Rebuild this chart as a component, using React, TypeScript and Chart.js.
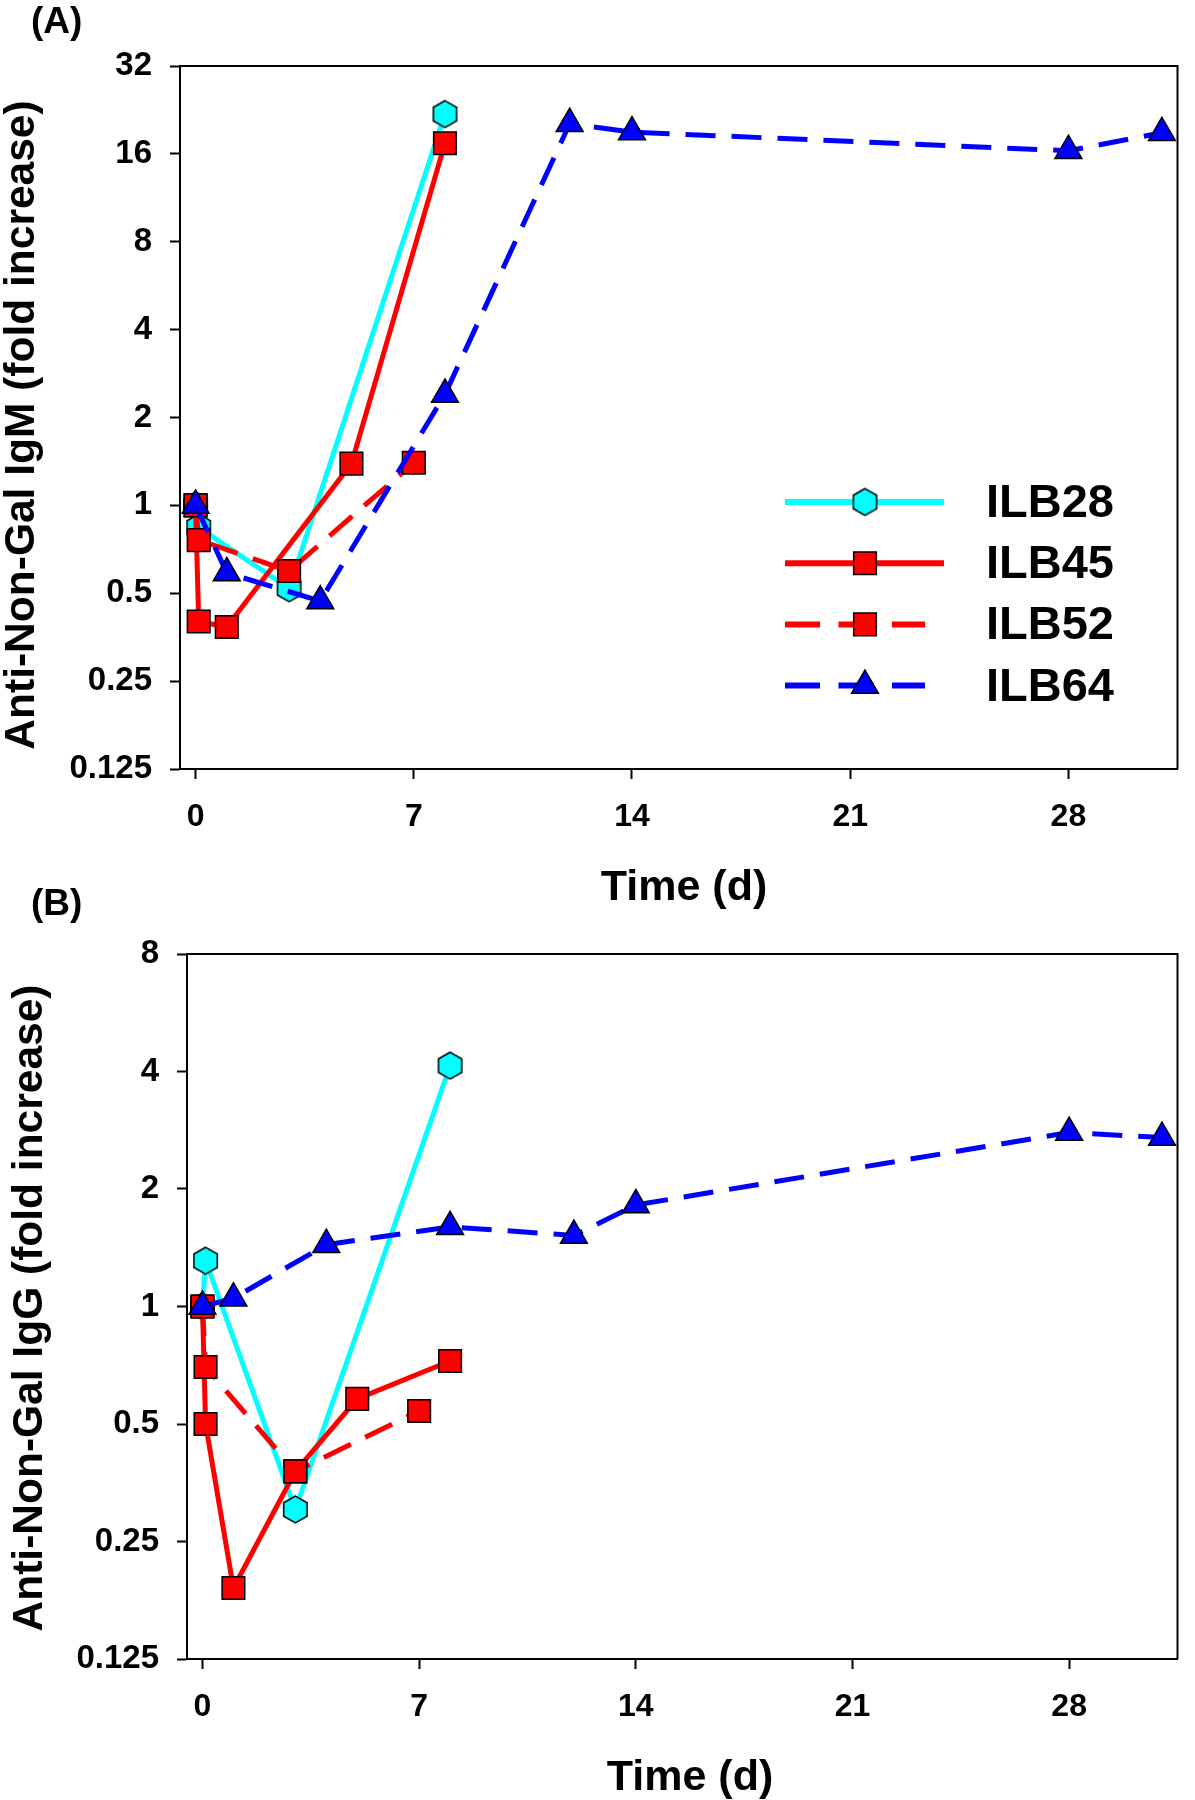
import { useEffect, useRef } from 'react'
import { Chart, registerables } from 'chart.js'
import { drawPoint } from 'chart.js/helpers'

Chart.register(...registerables)

const seriesNames = ['ILB28', 'ILB45', 'ILB52', 'ILB64']
const dayTicks = [0, 7, 14, 21, 28]
const igmTicks = [0.125, 0.25, 0.5, 1, 2, 4, 8, 16, 32]
const iggTicks = [0.125, 0.25, 0.5, 1, 2, 4, 8]

// (A) IgM fold increase
const igmDays28 = [0, 0.1, 3, 8]
const igmILB28 = [1, 0.84, 0.52, 21.9]
const igmDays45 = [0, 0.1, 1, 5, 8]
const igmILB45 = [1, 0.4, 0.383, 1.39, 17.4]
const igmDays52 = [0, 0.1, 3, 7]
const igmILB52 = [1, 0.76, 0.596, 1.4]
const igmDays64 = [0, 1, 4, 8, 12, 14, 28, 31]
const igmILB64 = [1, 0.587, 0.47, 2.4, 20.3, 19.0, 16.4, 18.9]

// (B) IgG fold increase
const iggDays28 = [0, 0.1, 3, 8]
const iggILB28 = [1, 1.31, 0.302, 4.14]
const iggDays45 = [0, 0.1, 1, 3, 5, 8]
const iggILB45 = [1, 0.5, 0.19, 0.378, 0.58, 0.725]
const iggDays52 = [0, 0.1, 3, 7]
const iggILB52 = [1, 0.7, 0.378, 0.54]
const iggDays64 = [0, 1, 4, 8, 12, 14, 28, 31]
const iggILB64 = [1, 1.05, 1.44, 1.6, 1.52, 1.82, 2.79, 2.71]

const FONT = '"Liberation Sans", Arial, Helvetica, sans-serif'

const makeHexagon = (radius, fill) => {
  const c = document.createElement('canvas')
  const size = Math.ceil(radius * 2 + 4)
  c.width = size
  c.height = size
  const ctx = c.getContext('2d')
  ctx.beginPath()
  for (let i = 0; i < 6; i++) {
    const a = Math.PI / 2 + (i * Math.PI) / 3
    const px = size / 2 + radius * Math.cos(a)
    const py = size / 2 - radius * Math.sin(a)
    if (i === 0) ctx.moveTo(px, py)
    else ctx.lineTo(px, py)
  }
  ctx.closePath()
  ctx.fillStyle = fill
  ctx.fill()
  ctx.lineWidth = 1.5
  ctx.strokeStyle = '#000'
  ctx.stroke()
  return c
}

const styles = [
  { color: '#00ffff', dash: [], legendDash: [], point: 'hexagon', radius: 13.5 },
  { color: '#ff0000', dash: [], legendDash: [], point: 'rect', radius: 16 },
  { color: '#ff0000', dash: [30, 16], legendDash: [35, 18.5], point: 'rect', radius: 16 },
  { color: '#0000ff', dash: [30, 16], legendDash: [35, 18.5], point: 'triangle', radius: 15.5 },
]

const toPoints = (days, values) => days.map((d, i) => ({ x: d, y: values[i] }))

// frame, titles, panel letter and (optional) legend
const decorPlugin = {
  id: 'decor',
  beforeDatasetsDraw(chart) {
    const { ctx, chartArea } = chart
    ctx.save()
    ctx.strokeStyle = '#000'
    ctx.lineWidth = 2
    ctx.beginPath()
    ctx.moveTo(chartArea.left, chartArea.top)
    ctx.lineTo(chartArea.right, chartArea.top)
    ctx.lineTo(chartArea.right, chartArea.bottom)
    ctx.stroke()
    ctx.restore()
  },
  afterDraw(chart, args, o) {
    const { ctx } = chart
    ctx.save()
    ctx.fillStyle = '#000'
    ctx.textBaseline = 'alphabetic'

    ctx.font = `bold 37px ${FONT}`
    ctx.textAlign = 'left'
    ctx.fillText(o.panel, o.panelX, o.panelY)

    ctx.font = `bold 43px ${FONT}`
    ctx.textAlign = 'center'
    ctx.fillText(o.xTitle, o.xTitleX, o.xTitleY)

    ctx.save()
    ctx.font = `bold 42.5px ${FONT}`
    ctx.translate(o.yTitleX, o.yTitleY)
    ctx.rotate(-Math.PI / 2)
    ctx.fillText(o.yTitle, 0, 0)
    ctx.restore()

    if (o.legend) {
      const { x0, x1, xDash1, xMark, xText, y0, step } = o.legend
      chart.data.datasets.forEach((ds, i) => {
        const st = styles[i]
        const y = y0 + i * step
        ctx.save()
        ctx.strokeStyle = st.color
        ctx.lineWidth = 6
        ctx.setLineDash(st.legendDash)
        ctx.beginPath()
        ctx.moveTo(x0, y)
        ctx.lineTo(st.legendDash.length ? xDash1 : x1, y)
        ctx.stroke()
        ctx.restore()
        ctx.save()
        ctx.fillStyle = st.color
        ctx.strokeStyle = '#000'
        ctx.lineWidth = 1.5
        drawPoint(ctx, { pointStyle: ds.pointStyle, radius: st.radius, rotation: 0, borderWidth: 1.5 }, xMark, y)
        ctx.restore()
        ctx.font = `bold 47px ${FONT}`
        ctx.textAlign = 'left'
        ctx.textBaseline = 'middle'
        ctx.fillText(ds.label, xText, y + 2)
      })
    }
    ctx.restore()
  },
}

const Panel = ({ top, height, area, series, yTicks, decor }) => {
  const chartRef = useRef(null)
  const chartInstance = useRef(null)

  useEffect(() => {
    if (!chartRef.current) return
    if (chartInstance.current) chartInstance.current.destroy()

    const ctx = chartRef.current.getContext('2d')
    const datasets = series.map((pts, i) => {
      const st = styles[i]
      return {
        label: seriesNames[i],
        data: pts,
        borderColor: st.color,
        borderWidth: 5,
        borderDash: st.dash,
        borderCapStyle: 'butt',
        pointStyle: st.point === 'hexagon' ? makeHexagon(st.radius, st.color) : st.point,
        pointRadius: st.radius,
        pointBackgroundColor: st.color,
        pointBorderColor: '#000',
        pointBorderWidth: 1.5,
        tension: 0,
        fill: false,
        clip: false,
        order: 4 - i,
      }
    })

    const tickFont = { family: FONT, weight: 'bold' }

    chartInstance.current = new Chart(ctx, {
      type: 'line',
      data: { datasets },
      plugins: [decorPlugin],
      options: {
        responsive: false,
        animation: false,
        events: [],
        layout: { padding: { left: 0, top: area.top, right: 1195 - area.right, bottom: 0 } },
        plugins: {
          legend: { display: false },
          tooltip: { enabled: false },
          decor,
        },
        scales: {
          x: {
            type: 'linear',
            min: -0.5,
            max: 31.5,
            afterBuildTicks: (s) => {
              s.ticks = dayTicks.map((v) => ({ value: v }))
            },
            afterFit: (s) => {
              s.height = height - area.bottom
            },
            grid: { drawOnChartArea: false, drawTicks: true, tickLength: 10, tickWidth: 2, tickColor: '#000' },
            border: { display: true, color: '#000', width: 2 },
            ticks: {
              color: '#000',
              font: { ...tickFont, size: 32 },
              padding: 19,
              maxRotation: 0,
              autoSkip: false,
              callback: (v) => String(v),
            },
          },
          y: {
            type: 'logarithmic',
            min: yTicks[0],
            max: yTicks[yTicks.length - 1],
            afterBuildTicks: (s) => {
              s.ticks = yTicks.map((v) => ({ value: v }))
            },
            afterFit: (s) => {
              s.width = area.left
            },
            grid: { drawOnChartArea: false, drawTicks: true, tickLength: 10, tickWidth: 2, tickColor: '#000' },
            border: { display: true, color: '#000', width: 2 },
            ticks: {
              color: '#000',
              font: { ...tickFont, size: 33 },
              padding: 18,
              autoSkip: false,
              callback: (v) => String(v),
            },
          },
        },
      },
    })

    return () => {
      if (chartInstance.current) {
        chartInstance.current.destroy()
        chartInstance.current = null
      }
    }
  }, [])

  return (
    <canvas
      ref={chartRef}
      width={1195}
      height={height}
      style={{ position: 'absolute', left: 0, top, width: 1195, height }}
    />
  )
}

const igmSeries = [
  toPoints(igmDays28, igmILB28),
  toPoints(igmDays45, igmILB45),
  toPoints(igmDays52, igmILB52),
  toPoints(igmDays64, igmILB64),
]

const iggSeries = [
  toPoints(iggDays28, iggILB28),
  toPoints(iggDays45, iggILB45),
  toPoints(iggDays52, iggILB52),
  toPoints(iggDays64, iggILB64),
]

export default function App() {
  return (
    <div style={{ position: 'absolute', left: 0, top: 0, width: 1195, height: 1800, background: '#fff' }}>
      <Panel
        top={0}
        height={930}
        area={{ left: 180, right: 1188, top: 66, bottom: 769 }}
        series={igmSeries}
        yTicks={igmTicks}
        decor={{
          panel: '(A)',
          panelX: 31,
          panelY: 33,
          xTitle: 'Time (d)',
          xTitleX: 684,
          xTitleY: 900,
          yTitle: 'Anti-Non-Gal IgM (fold increase)',
          yTitleX: 34,
          yTitleY: 425,
          legend: { x0: 785, x1: 944, xDash1: 925, xMark: 865, xText: 986, y0: 502, step: 61.2 },
        }}
      />
      <Panel
        top={880}
        height={920}
        area={{ left: 187, right: 1194, top: 74, bottom: 779 }}
        series={iggSeries}
        yTicks={iggTicks}
        decor={{
          panel: '(B)',
          panelX: 31,
          panelY: 35,
          xTitle: 'Time (d)',
          xTitleX: 690,
          xTitleY: 910,
          yTitle: 'Anti-Non-Gal IgG (fold increase)',
          yTitleX: 42,
          yTitleY: 428,
        }}
      />
    </div>
  )
}
